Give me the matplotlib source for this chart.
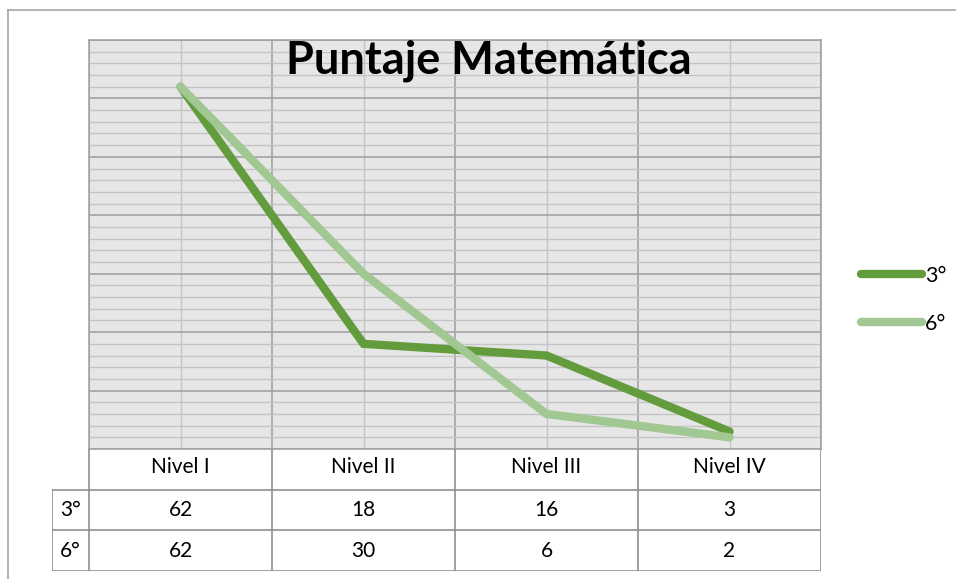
import matplotlib.pyplot as plt
import numpy as np
from matplotlib.lines import Line2D

categories = ['Nivel I', 'Nivel II', 'Nivel III', 'Nivel IV']
series = ['3°', '6°']
vals_3 = [62, 18, 16, 3]
vals_6 = [62, 30, 6, 2]
colors = ['#629C3D', '#A1C893']

W, H = 956, 579
plt.rcParams['font.family'] = ['Lato', 'DejaVu Sans']

fig = plt.figure(figsize=(W / 100, H / 100), dpi=100)

def box(l, t, r, b):
    return [l / W, 1 - b / H, (r - l) / W, (b - t) / H]

# outer chart border (top and left visible)
fig.add_artist(Line2D([8 / W, 1], [1 - 10 / H, 1 - 10 / H], color='#A6A6A6', lw=1.2))
fig.add_artist(Line2D([8 / W, 8 / W], [0, 1 - 10 / H], color='#A6A6A6', lw=1.2))

ax = fig.add_axes(box(89, 40, 821, 449))
ax.set_facecolor('#E6E6E6')
x = np.arange(len(categories)) + 0.5
ax.set_xlim(0, len(categories))
ax.set_ylim(0, 70)
ax.set_yticks(np.arange(0, 71, 10))
ax.set_yticks(np.arange(0, 71, 2), minor=True)
ax.set_xticks(np.arange(0, len(categories) + 1))
ax.set_xticks(x, minor=True)
ax.grid(which='major', color='#A3A3A3', lw=1.2)
ax.grid(which='minor', color='#C4C4C4', lw=1.0)
ax.tick_params(which='both', length=0, labelleft=False, labelbottom=False)
ax.set_axisbelow(True)
for s in ax.spines.values():
    s.set_color('#A3A3A3')
    s.set_linewidth(1.2)

for vals, lab, c in zip([vals_3, vals_6], series, colors):
    ax.plot(x, vals, color=c, lw=6, solid_capstyle='round', solid_joinstyle='miter', label=lab)

fig.legend(loc='center left', bbox_to_anchor=(842 / W, 1 - 300 / H), frameon=False,
           fontsize=15.5, handlelength=2.8, handletextpad=0.15, labelspacing=1.3)

fig.text(489 / W, 1 - 61 / H, 'Puntaje Matemática', ha='center', va='center',
         fontsize=32.5, fontweight='bold')

# data table under the chart
tab = fig.add_axes(box(52, 449, 821, 571))
lw_frac = 37 / 183
tab.set_xlim(-lw_frac, len(categories))
tab.set_ylim(3, 0)
tab.axis('off')
gc = '#8F8F8F'
tab.plot([0, 0], [0, 3], color=gc, lw=1.2)
for i in range(1, len(categories) + 1):
    tab.plot([i, i], [0, 3], color=gc, lw=1.2)
tab.plot([-lw_frac, -lw_frac], [1, 3], color=gc, lw=1.2)
for r in [1, 2, 3]:
    tab.plot([-lw_frac, len(categories)], [r, r], color=gc, lw=1.2)
for xi, cat in zip(x, categories):
    tab.text(xi, 0.45, cat, ha='center', va='center', fontsize=15)
for row, (lab, vals) in enumerate(zip(series, [vals_3, vals_6])):
    tab.text(-lw_frac / 2, row + 1.5, lab, ha='center', va='center', fontsize=15)
    for xi, v in zip(x, vals):
        tab.text(xi, row + 1.5, str(v), ha='center', va='center', fontsize=15)

fig.savefig('out.png', dpi=100)
